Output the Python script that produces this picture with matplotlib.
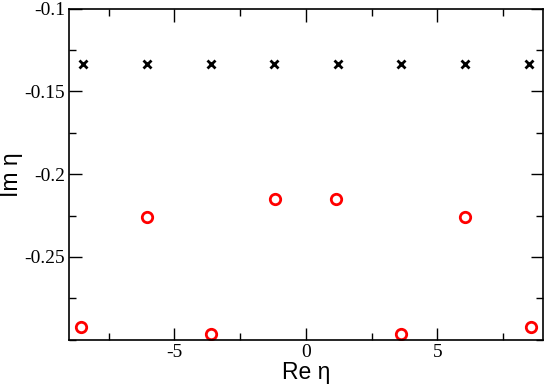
import numpy as np
import matplotlib.pyplot as plt
from matplotlib.ticker import MultipleLocator

# poles: upper row (crosses) and lower row (circles)
re_x = [-8.47, -6.06, -3.62, -1.2, 1.2, 3.62, 6.06, 8.47]
im_x = [-0.1334] * 8

re_o = [-8.56, -6.06, -3.61, -1.16, 1.16, 3.61, 6.06, 8.56]
im_o = [-0.2921, -0.2256, -0.2967, -0.2151, -0.2151, -0.2967, -0.2256, -0.2921]

fig = plt.figure(figsize=(5.45, 3.87), dpi=100)
ax = fig.add_axes([0.127, 0.1222, 0.8688, 0.8553])

ax.plot(re_x, im_x, ls="none", marker="x", ms=5.5, mew=2, color="black")
ax.plot(re_o, im_o, ls="none", marker="o", ms=7.5, mew=2, mfc="none", mec="red")

ax.set_xlim(-9, 9)
ax.set_ylim(-0.3, -0.1)
ax.xaxis.set_minor_locator(MultipleLocator(2.5))
ax.yaxis.set_minor_locator(MultipleLocator(0.025))
ax.set_yticks([-0.1, -0.15, -0.2, -0.25])
ax.set_yticklabels(["-0.1", "-0.15", "-0.2", "-0.25"])
ax.set_xticks([-5, 0, 5])
ax.set_xticklabels(["-5", "0", "5"])

ax.tick_params(which="both", direction="in", top=True, right=True, width=1)
ax.tick_params(which="major", length=9, labelsize=14, pad=3)
ax.tick_params(which="minor", length=5)
for lab in ax.get_xticklabels() + ax.get_yticklabels():
    lab.set_family("Liberation Serif")
for s in ax.spines.values():
    s.set_linewidth(1.2)

ax.set_xlabel("Re η", fontsize=16.5, family="Liberation Sans", labelpad=0)
ax.set_ylabel("Im η", fontsize=16.5, family="Liberation Sans", labelpad=1)

fig.savefig("out.png", dpi=100)
